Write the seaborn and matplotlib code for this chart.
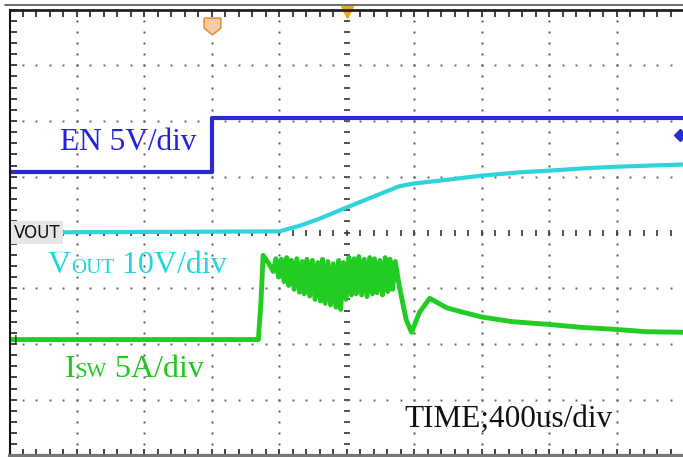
import numpy as np
import pandas as pd
import matplotlib.pyplot as plt
import seaborn as sns
from matplotlib.lines import Line2D
from matplotlib import font_manager

# scope screen: x in divisions (400 us/div), y in divisions from bottom (0..8)
en_t = [0.0, 3.0, 3.0, 10.0]
en_y = [5.08, 5.08, 6.06, 6.06]

vout_t = [0.0, 4.0, 4.30, 4.60, 5.0, 5.41, 5.78, 6.0, 6.38, 7.0, 7.57, 8.01, 8.50, 9.0, 9.49, 10.0]
vout_y = [4.0, 4.02, 4.12, 4.25, 4.45, 4.65, 4.83, 4.88, 4.93, 5.02, 5.08, 5.11, 5.15, 5.18, 5.20, 5.22]

# switch current: flat + rising edge
isw_start_t = [0.0, 3.69, 3.73, 3.76, 3.84]
isw_start_y = [2.08, 2.08, 2.80, 3.59, 3.45]
# ringing part, troughs and peaks read one by one
isw_trough_t = [3.91, 3.99, 4.07, 4.14, 4.22, 4.30, 4.37, 4.45, 4.53, 4.61, 4.68, 4.76,
                4.84, 4.91, 4.99, 5.07, 5.14, 5.22, 5.30, 5.38, 5.45, 5.53, 5.61, 5.68]
isw_trough_y = [3.30, 3.20, 3.12, 3.05, 2.98, 2.93, 2.90, 2.86, 2.80, 2.77, 2.73, 2.70,
                2.66, 2.62, 2.80, 2.88, 2.90, 2.88, 2.85, 2.90, 2.92, 2.88, 2.94, 2.98]
isw_peak_t = [3.95, 4.03, 4.11, 4.18, 4.26, 4.34, 4.41, 4.49, 4.57, 4.64, 4.72, 4.80,
              4.88, 4.95, 5.03, 5.11, 5.18, 5.26, 5.34, 5.41, 5.49, 5.57, 5.64, 5.72]
isw_peak_y = [3.53, 3.52, 3.55, 3.50, 3.53, 3.48, 3.52, 3.50, 3.46, 3.52, 3.48, 3.44,
              3.50, 3.46, 3.55, 3.53, 3.57, 3.52, 3.55, 3.53, 3.50, 3.55, 3.52, 3.48]
# dip and slow decay
isw_tail_t = [5.78, 5.88, 5.96, 6.08, 6.23, 6.48, 6.72, 7.02, 7.46, 8.01, 8.46, 9.01, 9.45, 10.0]
isw_tail_y = [3.03, 2.44, 2.21, 2.57, 2.82, 2.65, 2.57, 2.48, 2.40, 2.35, 2.30, 2.26, 2.22, 2.21]

isw_t = isw_start_t + [v for p in zip(isw_trough_t, isw_peak_t) for v in p] + isw_tail_t
isw_y = isw_start_y + [v for p in zip(isw_trough_y, isw_peak_y) for v in p] + isw_tail_y

EN_C = '#2a2ad4'
VOUT_C = '#2fd3dc'
ISW_C = '#22cc22'

sns.set_style('white')
plt.rcParams['font.family'] = ['Liberation Serif', 'DejaVu Serif']
names = {f.name for f in font_manager.fontManager.ttflist}
narrow = 'Liberation Sans Narrow' if 'Liberation Sans Narrow' in names else 'DejaVu Sans'

fig = plt.figure(figsize=(6.83, 4.57), dpi=100)
W, H = 683, 457
left, right, top, bottom = 9.5, 684.0, 9.5, 455.5
ax = fig.add_axes([left / W, 1 - bottom / H, (right - left) / W, (bottom - top) / H])
ax.set_xlim(0, 10)
ax.set_ylim(0, 8)

# dotted graticule
ys = np.arange(0.2, 8.0, 0.2)
xs = np.arange(0.2, 10.0, 0.2)
for k in range(1, 10):
    if k == 5:
        ax.plot([k] * len(ys), ys, ls='none', marker='_', ms=4, mew=1.2, color='#333')
    else:
        ax.plot([k] * len(ys), ys, ls='none', marker='s', ms=1.4, mew=0,
                color='#555')
for j in range(1, 8):
    if j == 4:
        ax.plot(xs, [j] * len(xs), ls='none', marker='|', ms=5, mew=1.2, color='#333')
    else:
        ax.plot(xs, [j] * len(xs), ls='none', marker='s', ms=1.4, mew=0,
                color='#666')

ax.set_xticks(range(11))
ax.set_yticks(range(9))
ax.xaxis.set_minor_locator(plt.MultipleLocator(0.2))
ax.yaxis.set_minor_locator(plt.MultipleLocator(0.2))
ax.tick_params(which='both', direction='in', top=True, bottom=True, left=True, right=False,
               labelbottom=False, labelleft=False, length=5, width=1.2, color='#222')
ax.spines['right'].set_visible(False)
ax.spines['top'].set_color('#222')
ax.spines['top'].set_linewidth(2)
ax.spines['left'].set_color('#111')
ax.spines['left'].set_linewidth(1.5)
ax.spines['bottom'].set_color('#777')
ax.spines['bottom'].set_linewidth(3)
fig.add_artist(Line2D([5 / W, 1], [1 - 4.5 / H] * 2, color='#555', lw=1.2))

# traces
sns.lineplot(data=pd.DataFrame({'t': en_t, 'v': en_y}), x='t', y='v', estimator=None,
             sort=False, color=EN_C, lw=3, ax=ax)
sns.lineplot(data=pd.DataFrame({'t': vout_t, 'v': vout_y}), x='t', y='v', estimator=None,
             sort=False, color=VOUT_C, lw=3, ax=ax)
sns.lineplot(data=pd.DataFrame({'t': isw_t, 'v': isw_y}), x='t', y='v', estimator=None,
             sort=False, color=ISW_C, lw=3.5, ax=ax)
ax.set_xlabel('')
ax.set_ylabel('')

# markers
ax.plot([5.0], [7.96], marker='v', ms=9, color='#f0a818', clip_on=False)
trig = [(-1, 1), (1, 1), (1, -0.2), (0, -1), (-1, -0.2), (-1, 1)]
ax.plot([3.0], [7.70], marker=trig, ms=12, mfc='#f8cca4', mec='#e8903c', mew=1.2)
ax.plot([9.94], [5.75], marker='D', ms=6, color=EN_C, clip_on=False)
ax.text(0.06, 4.0, 'VOUT', fontsize=12, family=narrow, color='#111', va='center',
        bbox=dict(fc='#e6e6e6', ec='none', pad=2))
ax.text(0.06, 2.07, 'I', fontsize=9, family=narrow, color='#111', va='center')


def label(x, y, parts, color):
    prev = ax.text(x, y, parts[0][0], fontsize=parts[0][1], color=color, va='baseline')
    for s, fs in parts[1:]:
        prev = ax.annotate(s, xy=(1, y), xycoords=(prev, 'data'), fontsize=fs,
                           color=color, va='baseline', ha='left')


label(0.75, 5.48, [('EN 5V/div', 22.5)], '#2222dd')
label(0.57, 3.27, [('V', 23), ('OUT', 15), (' 10V/div', 23)], '#22d6e0')
label(0.82, 1.41, [('I', 23), ('SW', 15), (' 5A/div', 23)], '#1ec81e')
label(5.86, 0.51, [('TIME;400us/div', 22.5)], '#111111')

fig.savefig('out.png', dpi=100)
